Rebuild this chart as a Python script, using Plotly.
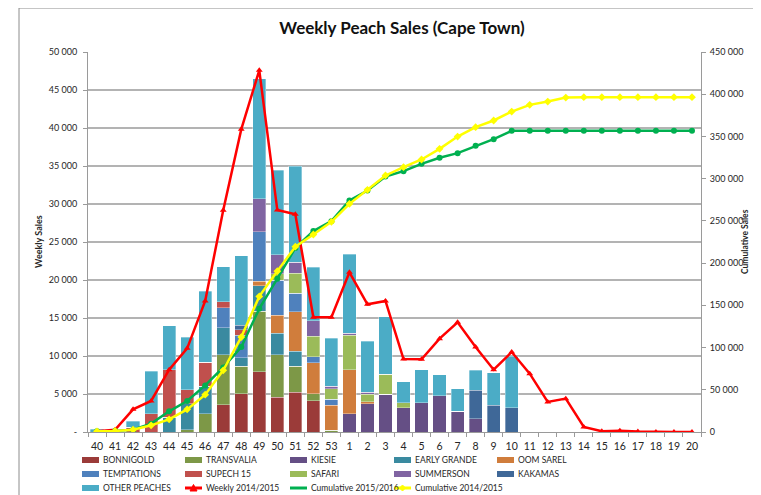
import plotly.graph_objects as go

# ── data ─────────────────────────────────────────────
WEEKS = [str(w) for w in range(40, 54)] + [str(w) for w in range(1, 21)]

BONNIGOLD    = [0, 0, 0, 0, 0, 0, 0, 3600, 5040, 7900, 4600, 5260, 4080, 0] + [0] * 20
TRANSVALIA   = [0, 0, 0, 0, 0, 300, 2410, 6580, 3600, 7980, 5570, 3420, 960, 200] + [0] * 20
KIESIE       = [0] * 14 + [2410, 3730, 5000, 3160, 3820, 4740, 2720, 1750] + [0] * 12
EARLY_GRANDE = [0, 0, 0, 0, 1970, 3420, 3600, 3550, 1140, 3380, 2850, 1970, 0, 0] + [0] * 20
OOM_SAREL    = [0, 0, 0, 0, 0, 0, 0, 0, 0, 570, 2320, 5180, 4080, 3290] + [5790, 220] + [0] * 18
TEMPTATIONS  = [0, 0, 0, 0, 0, 0, 0, 2630, 2940, 6490, 4600, 2410, 750, 830] + [0] * 20
SUPECH_15    = [0, 0, 650, 2400, 6230, 1840, 3200, 750, 750, 0, 0, 0, 0, 0] + [0] * 20
SAFARI       = [0, 0, 0, 0, 0, 0, 0, 0, 0, 0, 880, 2630, 2720, 1360] + [4520, 1000, 2590, 660] + [0] * 16
SUMMERSON    = [0, 0, 0, 0, 0, 0, 0, 0, 0, 4390, 2500, 1490, 2020, 350] + [300, 260] + [0] * 18
KAKAMAS      = [0, 0, 0, 0, 0, 0, 0, 0, 570, 0, 0, 0, 0, 0] + [0] * 7 + [3730, 3510, 3160] + [0] * 10
OTHER        = [350, 0, 750, 5600, 5750, 6930, 9300, 4650, 9120, 15790, 11100, 12630, 7060, 6320] + \
               [10350, 6750, 7590, 2760, 4340, 2810, 2980, 2630, 4300, 6840] + [0] * 10

WEEKLY_1415 = [100, 300, 2980, 4080, 8200, 11010, 17240, 29170, 39820, 47590, 29200, 28640, 15090, 15090,
               21010, 16800, 17240, 9600, 9560, 12280, 14430, 11180, 8200, 10530,
               7680, 3950, 4390, 660, 90, 180, 50, 0, 0, 0]
CUM_1516 = [800, 1200, 2800, 9900, 24500, 36700, 55200, 76500, 100600, 146000, 181500, 218000, 237900, 249700,
            274200, 286000, 302600, 308900, 317600, 324700, 330200, 338900, 346800, 356600,
            356600, 356600, 356600, 356600, 356600, 356600, 356600, 356600, 356600, 356600]
CUM_1415 = [800, 1200, 2800, 7900, 15000, 26800, 44200, 73000, 112400, 160600, 190500, 219500, 233900, 248900,
            270200, 286800, 303800, 313600, 322700, 335300, 349900, 361000, 368900, 379500,
            387400, 391300, 396000, 396500, 396500, 396500, 396500, 396500, 396500, 396500]

LEFT_TICKS = [0, 5000, 10000, 15000, 20000, 25000, 30000, 35000, 40000, 45000, 50000]
LEFT_TEXT = ["-", "5 000", "10 000", "15 000", "20 000", "25 000", "30 000", "35 000", "40 000", "45 000", "50 000"]

# ── styles ───────────────────────────────────────────
FONT = "Lato, Carlito, 'Open Sans', sans-serif"
GRID = "#b3b3b3"
AXIS = "#9a9a9a"
TXT = "#262626"

BAR_SERIES = [
    ("BONNIGOLD", BONNIGOLD, "#9b3b39"),
    ("TRANSVALIA", TRANSVALIA, "#7d9847"),
    ("KIESIE", KIESIE, "#654f85"),
    ("EARLY GRANDE", EARLY_GRANDE, "#3a8aa0"),
    ("OOM SAREL", OOM_SAREL, "#d07d3c"),
    ("TEMPTATIONS", TEMPTATIONS, "#4f81bd"),
    ("SUPECH 15", SUPECH_15, "#c0504d"),
    ("SAFARI", SAFARI, "#9bbb59"),
    ("SUMMERSON", SUMMERSON, "#8064a2"),
    ("KAKAMAS", KAKAMAS, "#3f6898"),
    ("OTHER PEACHES", OTHER, "#4bacc6"),
]
LINE_SERIES = [
    ("Weekly 2014/2015", WEEKLY_1415, "#ff0000", "triangle-up", "y"),
    ("Cumulative 2015/2016", CUM_1516, "#00b050", "circle", "y2"),
    ("Cumulative 2014/2015", CUM_1415, "#ffff00", "diamond", "y2"),
]

# the page body adds an 8px margin, so the figure is drawn 8px smaller
# and every position below is given in page pixels
OFF = 8
W, H = 761 - OFF, 495 - OFF
PLOT_L, PLOT_R, PLOT_T, PLOT_B = 88, 701, 52, 432
ML, MR = PLOT_L - OFF, W - (PLOT_R - OFF)
MT, MB = PLOT_T - OFF, H - (PLOT_B - OFF)
PW, PH = W - ML - MR, H - MT - MB


def px_x(px):
    return (px - PLOT_L) / PW


def px_y(py):
    return (PLOT_B - py) / PH


fig = go.Figure()

for name, vals, color in BAR_SERIES:
    fig.add_trace(go.Bar(
        x=WEEKS, y=vals, name=name, marker_color=color,
        marker_line=dict(color="rgba(255,255,255,0.55)", width=0.6),
        showlegend=False,
    ))

for name, vals, color, sym, ax in LINE_SERIES:
    fig.add_trace(go.Scatter(
        x=WEEKS, y=vals, name=name, mode="lines+markers", yaxis=ax,
        line=dict(color=color, width=2.5),
        marker=dict(symbol=sym, size=6, color=color),
        showlegend=False,
    ))

# ── hand-built legend (Excel style, 5 columns) ──────
COL_X = [82, 185, 290, 394, 497]
ROW_Y = [460, 474, 488]
MARKER_PATHS = {
    "triangle-up": "M-3.5,-3 L3.5,-3 L0,3.5 Z",
    "circle": "M-3,0 A3,3 0 1,0 3,0 A3,3 0 1,0 -3,0 Z",
    "diamond": "M-3,0 L0,3 L3,0 L0,-3 Z",
}
shapes = []
annotations = []
entries = [(n, c, None) for n, _, c in BAR_SERIES] + [(n, c, s) for n, _, c, s, _ in LINE_SERIES]
for i, (name, color, sym) in enumerate(entries):
    cx, cy = COL_X[i % 5], ROW_Y[i // 5]
    if sym is None:
        shapes.append(dict(type="rect", xref="paper", yref="paper",
                           x0=px_x(cx), x1=px_x(cx + 17), y0=px_y(cy + 3), y1=px_y(cy - 3),
                           fillcolor=color, line_width=0))
    else:
        shapes.append(dict(type="line", xref="paper", yref="paper",
                           x0=px_x(cx), x1=px_x(cx + 17), y0=px_y(cy), y1=px_y(cy),
                           line=dict(color=color, width=3)))
        shapes.append(dict(type="path", xref="paper", yref="paper",
                           xsizemode="pixel", ysizemode="pixel",
                           xanchor=px_x(cx + 8.5), yanchor=px_y(cy),
                           path=MARKER_PATHS[sym], fillcolor=color, line=dict(color=color, width=1)))
    annotations.append(dict(x=px_x(cx + 18.5), y=px_y(cy), xref="paper", yref="paper",
                            text=name, showarrow=False, xanchor="left", yanchor="middle",
                            font=dict(size=8.5, color=TXT)))

# chart-area frame (cropped at the right and bottom in the original)
shapes.append(dict(type="rect", xref="paper", yref="paper",
                   x0=px_x(19), x1=px_x(790), y0=px_y(530), y1=px_y(8),
                   line=dict(color="#8c8c8c", width=1), fillcolor="rgba(0,0,0,0)", layer="below"))

# axis titles
annotations.append(dict(x=px_x(38), y=px_y(242), xref="paper", yref="paper", text="<b>Weekly Sales</b>",
                        xanchor="center", yanchor="middle",
                        textangle=-90, showarrow=False, font=dict(size=9, color=TXT)))
annotations.append(dict(x=px_x(745), y=px_y(242), xref="paper", yref="paper", text="<b>Cumulative Sales</b>",
                        xanchor="center", yanchor="middle",
                        textangle=-90, showarrow=False, font=dict(size=8.5, color=TXT)))

fig.update_layout(
    width=W, height=H,
    margin=dict(l=ML, r=MR, t=MT, b=MB),
    paper_bgcolor="white", plot_bgcolor="white",
    font=dict(family=FONT, size=10, color=TXT),
    separators=". ",
    barmode="stack", bargap=0.27,
    title=dict(text="<b>Weekly Peach Sales (Cape Town)</b>", x=(402 - OFF) / W, xref="container",
               xanchor="center", y=1 - (28 - OFF) / H, yref="container", yanchor="middle",
               font=dict(size=17, color="#111")),
    xaxis=dict(type="category", categoryorder="array", categoryarray=WEEKS,
               range=[-0.5, len(WEEKS) - 0.5], automargin=False,
               showline=True, linecolor=AXIS, ticks="outside", tickson="boundaries",
               ticklen=4, tickcolor=AXIS, showgrid=False, tickangle=0, ticklabelstandoff=4,
               tickfont=dict(size=10.5, color=TXT)),
    yaxis=dict(range=[0, 50000], tickvals=LEFT_TICKS, ticktext=LEFT_TEXT, automargin=False,
               showline=True, linecolor=AXIS, ticks="outside", ticklen=4, tickcolor=AXIS,
               ticklabelstandoff=4,
               gridcolor=GRID, gridwidth=1.5, zeroline=False, tickfont=dict(size=9, color=TXT)),
    yaxis2=dict(range=[0, 450000], dtick=50000, tickformat=",d", overlaying="y", side="right",
                automargin=False, ticklabelstandoff=2,
                showline=True, linecolor=AXIS, ticks="outside", ticklen=4, tickcolor=AXIS,
                showgrid=False, zeroline=False, tickfont=dict(size=9, color=TXT)),
    shapes=shapes,
    annotations=annotations,
    showlegend=False,
)

fig.write_html("out.html", config={"displayModeBar": False})
